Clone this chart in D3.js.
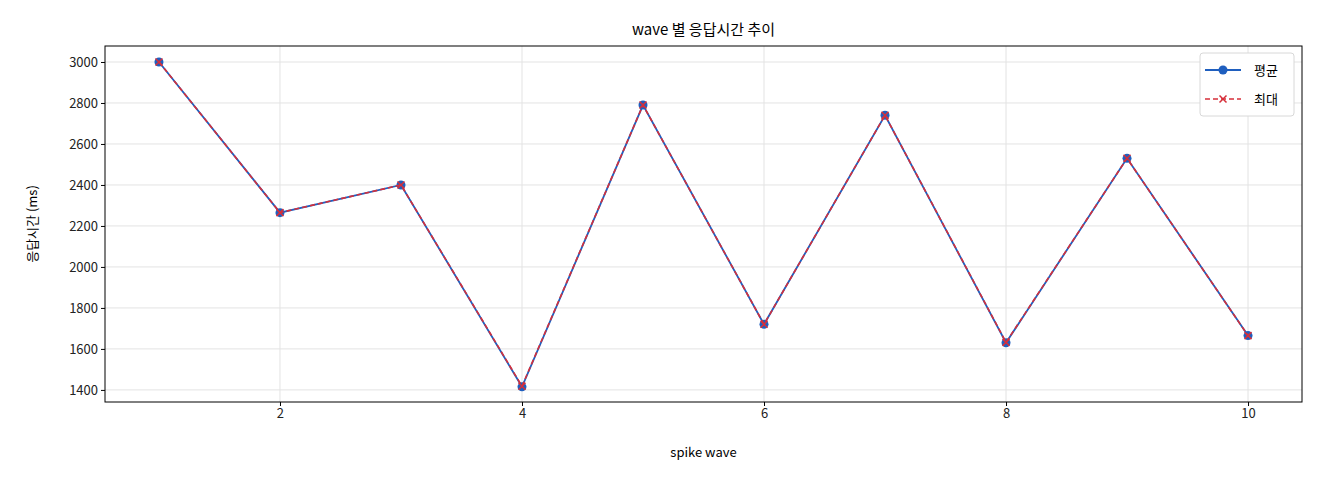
<!DOCTYPE html><html><head><meta charset="utf-8"><script src="https://cdn.jsdelivr.net/npm/d3@7"></script>
<style>body{margin:0;background:#fff}text{font-family:"Noto Sans CJK KR","DejaVu Sans",sans-serif}</style></head><body><svg id="c" width="1320" height="480"></svg><script>
const waves=[1,2,3,4,5,6,7,8,9,10];
const avgValues=[3000,2265,2400,1415,2790,1720,2740,1630,2530,1665];
const maxValues=[3000,2265,2400,1418,2790,1720,2740,1632,2530,1665];
const xTicks=[2,4,6,8,10];
const yTicks=[1400,1600,1800,2000,2200,2400,2600,2800,3000];
const svg=d3.select("#c");
const L=105,R=1302,T=46,B=402;
const x=d3.scaleLinear().domain([0.554,10.446]).range([L,R]);
const y=d3.scaleLinear().domain([1341,3078]).range([B,T]);
const g=svg.append("g");
g.selectAll(".gx").data(xTicks).enter().append("line").attr("x1",d=>x(d)).attr("x2",d=>x(d)).attr("y1",T).attr("y2",B).attr("stroke","#e3e3e3");
g.selectAll(".gy").data(yTicks).enter().append("line").attr("y1",d=>y(d)).attr("y2",d=>y(d)).attr("x1",L).attr("x2",R).attr("stroke","#e3e3e3");
svg.append("g").attr("transform",`translate(0,${B})`).call(d3.axisBottom(x).tickValues(xTicks).tickSize(4).tickFormat(d3.format("d"))).call(a=>{a.select(".domain").remove();a.selectAll("text").attr("font-size",13).attr("fill","#222");});
svg.append("g").attr("transform",`translate(${L},0)`).call(d3.axisLeft(y).tickValues(yTicks).tickSize(4).tickFormat(d3.format("d"))).call(a=>{a.select(".domain").remove();a.selectAll("text").attr("font-size",13).attr("fill","#222");});
svg.append("rect").attr("x",L).attr("y",T).attr("width",R-L).attr("height",B-T).attr("fill","none").attr("stroke","#000");
const line=d3.line().x((d,i)=>x(waves[i])).y(d=>y(d));
svg.append("path").attr("d",line(avgValues)).attr("fill","none").attr("stroke","#1f5fbf").attr("stroke-width",1.8);
svg.selectAll(".pa").data(avgValues).enter().append("circle").attr("cx",(d,i)=>x(waves[i])).attr("cy",d=>y(d)).attr("r",4.5).attr("fill","#1f5fbf");
svg.append("path").attr("d",line(maxValues)).attr("fill","none").attr("stroke","#d62f3a").attr("stroke-width",1.6).attr("stroke-dasharray","5,3");
const cross=(s,cx,cy,r)=>s.append("path").attr("d",`M${cx-r},${cy-r}L${cx+r},${cy+r}M${cx-r},${cy+r}L${cx+r},${cy-r}`).attr("stroke","#d62f3a").attr("stroke-width",1.5);
maxValues.forEach((d,i)=>cross(svg,x(waves[i]),y(d),3.5));
svg.append("text").attr("x",(L+R)/2).attr("y",35).attr("text-anchor","middle").attr("font-size",15).text("wave 별 응답시간 추이");
svg.append("text").attr("x",(L+R)/2).attr("y",457).attr("text-anchor","middle").attr("font-size",13).text("spike wave");
svg.append("text").attr("transform",`translate(37,${(T+B)/2}) rotate(-90)`).attr("text-anchor","middle").attr("font-size",13).text("응답시간 (ms)");
const lg=svg.append("g");
lg.append("rect").attr("x",1200).attr("y",53).attr("width",94).attr("height",63).attr("rx",3).attr("fill","#fff").attr("stroke","#d8d8d8");
lg.append("line").attr("x1",1205).attr("x2",1241).attr("y1",70).attr("y2",70).attr("stroke","#1f5fbf").attr("stroke-width",1.8);
lg.append("circle").attr("cx",1223).attr("cy",70).attr("r",4.5).attr("fill","#1f5fbf");
lg.append("line").attr("x1",1205).attr("x2",1241).attr("y1",99).attr("y2",99).attr("stroke","#d62f3a").attr("stroke-width",1.6).attr("stroke-dasharray","5,3");
cross(lg,1223,99,3.5);
lg.append("text").attr("x",1254).attr("y",75).attr("font-size",13).text("평균");
lg.append("text").attr("x",1254).attr("y",104).attr("font-size",13).text("최대");
</script></body></html>
